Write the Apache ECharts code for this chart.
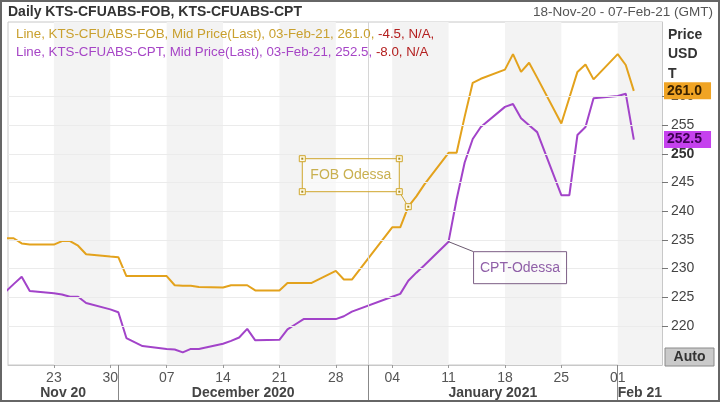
<!DOCTYPE html>
<html><head><meta charset="utf-8">
<script src="https://cdn.jsdelivr.net/npm/echarts@6/dist/echarts.min.js"></script>
<style>html,body{margin:0;padding:0;background:#fff}#c{width:720px;height:402px}</style>
</head><body><div id="c"></div>
<script>
// ---------- data ----------
const dates = ['2020-11-17','2020-11-18','2020-11-19','2020-11-20','2020-11-23','2020-11-24','2020-11-25','2020-11-26','2020-11-27','2020-11-30',
  '2020-12-01','2020-12-02','2020-12-03','2020-12-04','2020-12-07','2020-12-08','2020-12-09','2020-12-10','2020-12-11','2020-12-14',
  '2020-12-15','2020-12-16','2020-12-17','2020-12-18','2020-12-21','2020-12-22','2020-12-23','2020-12-24','2020-12-25','2020-12-28',
  '2020-12-29','2020-12-30','2021-01-04','2021-01-05','2021-01-06','2021-01-07','2021-01-08','2021-01-11','2021-01-12','2021-01-13',
  '2021-01-14','2021-01-15','2021-01-18','2021-01-19','2021-01-20','2021-01-21','2021-01-22','2021-01-25','2021-01-26','2021-01-27',
  '2021-01-28','2021-01-29','2021-02-01','2021-02-02','2021-02-03'];
const fobValues = [235.3,235.3,234.4,234.2,234.2,234.8,234.8,234.0,232.5,232.1,
  232.0,228.7,228.7,228.7,228.7,227.1,227.0,227.0,226.8,226.7,
  227.1,227.1,227.1,226.2,226.2,227.5,227.5,227.5,227.5,229.6,
  228.1,228.1,237.2,237.2,240.8,242.6,244.7,250.2,250.2,256.5,
  262.4,263.1,264.7,267.4,264.3,265.9,263.3,255.3,259.8,264.3,
  265.6,263.0,267.4,265.5,261.0];
const cptValues = [226.0,227.3,228.6,226.1,225.7,225.5,225.1,225.1,224.0,222.9,
  222.4,217.9,217.2,216.5,216.0,215.9,215.4,216.0,216.0,216.9,
  217.4,218.0,219.5,217.5,217.6,219.4,220.3,221.2,221.2,221.2,
  221.7,222.5,225.1,225.6,227.9,229.3,230.6,234.7,242.1,248.5,
  252.6,254.7,258.2,258.7,256.2,255.0,253.8,242.8,242.8,253.3,
  254.7,259.7,260.1,260.5,252.5];
const seriesNames = ['KTS-CFUABS-FOB','KTS-CFUABS-CPT'];
const annotationNames = ['FOB Odessa','CPT-Odessa'];
const annotationDates = ['2021-01-06','2021-01-11'];
const dayTickDates = ['2020-11-23','2020-11-30','2020-12-07','2020-12-14','2020-12-21','2020-12-28','2021-01-04','2021-01-11','2021-01-18','2021-01-25','2021-02-01'];
const dayTickLabels = ['23','30','07','14','21','28','04','11','18','25','01'];
const monthStartDates = ['2020-12-01','2021-01-01','2021-02-01'];
const monthLabels = ['Nov 20','December 2020','January 2021','Feb 21'];
const shadedWeekStarts = ['2020-11-23','2020-12-07','2020-12-21','2021-01-04','2021-01-18','2021-02-01'];
const yTicks = [220,225,230,235,240,245,250,255,260];
const yBoldTick = 250;
const yearBreakDate = '2021-01-01';
const titleText = 'Daily KTS-CFUABS-FOB, KTS-CFUABS-CPT';
const rangeText = '18-Nov-20 - 07-Feb-21 (GMT)';
const axisUnitLines = ['Price','USD','T'];
const lastDateLabel = '03-Feb-21';
const autoText = 'Auto';

// ---------- helpers ----------
const BASE = Date.UTC(2020,10,18);
function dayIndex(s){const p=s.split('-').map(Number);return (Date.UTC(p[0],p[1]-1,p[2])-BASE)/86400000;}
const X_MIN=-0.7, X_MAX=80.5, Y_MIN=213.2, Y_MAX=273.0;
const FOB_C='#e3a21c', CPT_C='#a243c9';
const FONT='Liberation Sans';

const fobData = dates.map((d,i)=>[dayIndex(d),fobValues[i]]);
const cptData = dates.map((d,i)=>[dayIndex(d),cptValues[i]]);
const dayTicks = dayTickDates.map(dayIndex);
const monthStarts = monthStartDates.map(dayIndex);
const bounds=[X_MIN,...monthStarts,X_MAX];
const monthMids = monthLabels.map((_,i)=>(bounds[i]+bounds[i+1])/2);

function lbl(arr,labels,v){let k=0,b=1e9;arr.forEach((t,i)=>{const d=Math.abs(t-v);if(d<b){b=d;k=i;}});return labels[k];}

const n=fobValues.length;
const fobLast=fobValues[n-1], cptLast=cptValues[n-1];
const fobChg=(fobLast-fobValues[n-2]).toFixed(1), cptChg=(cptLast-cptValues[n-2]).toFixed(1);

const chart = echarts.init(document.getElementById('c'),null,{renderer:'canvas'});

function tag(val,bg,fg){
  return {symbol:['none','none'],silent:true,lineStyle:{color:'rgba(0,0,0,0)',width:1,type:'solid'},
    data:[{yAxis:val}],
    label:{show:true,position:'end',distance:2,formatter:val.toFixed(1),backgroundColor:bg,color:fg,
      fontFamily:FONT,fontWeight:'bold',fontSize:14,padding:[2,9,1,3]}};
}

chart.setOption({
  animation:false,
  backgroundColor:'#fff',
  grid:{left:8,right:58,top:22,bottom:37,show:true,borderColor:'#c8c8c8',borderWidth:1,backgroundColor:'#fff'},
  xAxis:[{
    type:'value',min:X_MIN,max:X_MAX,
    axisLine:{show:true,onZero:false,lineStyle:{color:'#c8c8c8'}},
    axisTick:{show:true,customValues:dayTicks,length:3,lineStyle:{color:'#999'}},
    axisLabel:{customValues:dayTicks,formatter:v=>lbl(dayTicks,dayTickLabels,v),color:'#555',fontFamily:FONT,fontSize:14,margin:6},
    splitLine:{show:false}
  },{
    type:'value',min:X_MIN,max:X_MAX,position:'bottom',offset:0,
    axisLine:{show:false,onZero:false},
    axisTick:{show:true,customValues:monthStarts,length:37,lineStyle:{color:'#888'}},
    axisLabel:{customValues:monthMids,formatter:v=>lbl(monthMids,monthLabels,v),color:'#444',fontFamily:FONT,fontWeight:'bold',fontSize:14,margin:21},
    splitLine:{show:false}
  }],
  yAxis:{
    type:'value',position:'right',min:Y_MIN,max:Y_MAX,
    axisLine:{show:true,onZero:false,lineStyle:{color:'#c8c8c8'}},
    axisTick:{show:true,customValues:yTicks,length:6,lineStyle:{color:'#777'}},
    axisLabel:{customValues:yTicks,margin:9,color:'#444',fontFamily:FONT,fontSize:14,
      formatter:v=>v===yBoldTick?'{b|'+v+'}':String(v),rich:{b:{fontWeight:'bold',color:'#333',fontFamily:FONT,fontSize:14}}},
    splitLine:{show:false}
  },
  series:[{
    type:'line',name:'bg',data:[],z:0,silent:true,symbol:'none',
    markArea:{silent:true,itemStyle:{color:'#f3f3f3'},
      data:shadedWeekStarts.map(s=>[{xAxis:dayIndex(s)},{xAxis:Math.min(dayIndex(s)+7,X_MAX)}])},
    markLine:{silent:true,symbol:['none','none'],label:{show:false},
      data:[...yTicks.map(v=>({yAxis:v,lineStyle:{color:'#ebebeb',width:1,type:'solid'}})),
            {xAxis:dayIndex(yearBreakDate),lineStyle:{color:'#d6d6d6',width:1,type:'solid'}}]}
  },{
    type:'line',name:seriesNames[0],data:fobData,symbol:'none',z:3,
    lineStyle:{color:FOB_C,width:2},itemStyle:{color:FOB_C},
    markLine:tag(fobLast,'#f0a424','#3a2200')
  },{
    type:'line',name:seriesNames[1],data:cptData,symbol:'none',z:3,
    lineStyle:{color:CPT_C,width:2},itemStyle:{color:CPT_C},
    markLine:tag(cptLast,'#c541ee','#3d0052')
  }]
});

// annotations anchored to data points
const ia=dates.indexOf(annotationDates[0]), ib=dates.indexOf(annotationDates[1]);
const pa=chart.convertToPixel({xAxisIndex:0,yAxisIndex:0},fobData[ia]);
const pb=chart.convertToPixel({xAxisIndex:0,yAxisIndex:0},cptData[ib]);
function handle(x,y){return {type:'group',children:[
  {type:'rect',shape:{x:x-3,y:y-3,width:6,height:6},style:{fill:'#fffbe8',stroke:'#cfa62c',lineWidth:1},z:20},
  {type:'rect',shape:{x:x-1,y:y-1,width:2,height:2},style:{fill:'#a88a20'},z:21}]};}
const fx=pa[0]-106, fy=pa[1]-48, fw=97, fh=33;
const cx=pb[0]+25, cy=pb[1]+10, cw=93, ch=32;

const legendRich={
  a:{fill:'#c9a02e',font:'13.3px '+FONT},
  c:{fill:'#a645c6',font:'13.3px '+FONT},
  r:{fill:'#b42020',font:'13.3px '+FONT}};

chart.setOption({graphic:[
  {type:'rect',shape:{x:1,y:1,width:718,height:400},style:{fill:null,stroke:'#666',lineWidth:2},z:50,silent:true},
  {type:'text',x:8,y:12,style:{text:titleText,fill:'#333',font:'bold 14px '+FONT,textVerticalAlign:'middle'},z:30},
  {type:'text',x:713,y:12,style:{text:rangeText,fill:'#555',font:'13.5px '+FONT,textAlign:'right',textVerticalAlign:'middle'},z:30},
  {type:'text',x:16,y:34,style:{text:'{a|Line, '+seriesNames[0]+', Mid Price(Last), '+lastDateLabel+', '+fobLast.toFixed(1)+', }{r|'+fobChg+', N/A,}',rich:legendRich,textVerticalAlign:'middle'},z:30},
  {type:'text',x:16,y:52,style:{text:'{c|Line, '+seriesNames[1]+', Mid Price(Last), '+lastDateLabel+', '+cptLast.toFixed(1)+', }{r|'+cptChg+', N/A}',rich:legendRich,textVerticalAlign:'middle'},z:30},
  {type:'text',x:668,y:25,style:{text:axisUnitLines.join('\n'),fill:'#333',font:'bold 14px '+FONT,lineHeight:19.5,textVerticalAlign:'top'},z:30},
  {type:'rect',shape:{x:665,y:348,width:49,height:18},style:{fill:'#cacaca',stroke:'#8a8a8a',lineWidth:1},z:30},
  {type:'text',x:689.5,y:357.5,style:{text:autoText,fill:'#333',font:'bold 14px '+FONT,textAlign:'center',textVerticalAlign:'middle'},z:31},
  // FOB annotation
  {type:'line',shape:{x1:fx+fw,y1:fy+fh,x2:pa[0],y2:pa[1]},style:{stroke:'#cfa62c',lineWidth:1},z:19},
  {type:'rect',shape:{x:fx,y:fy,width:fw,height:fh},style:{fill:'rgba(255,255,255,0.5)',stroke:'#cfa62c',lineWidth:1},z:19},
  {type:'text',x:fx+fw/2,y:fy+fh/2,style:{text:annotationNames[0],fill:'#c9b050',font:'14px '+FONT,textAlign:'center',textVerticalAlign:'middle'},z:22},
  handle(fx,fy),handle(fx+fw,fy),handle(fx,fy+fh),handle(fx+fw,fy+fh),handle(pa[0],pa[1]),
  // CPT annotation
  {type:'line',shape:{x1:pb[0],y1:pb[1],x2:cx,y2:cy},style:{stroke:'#6b5a70',lineWidth:1},z:19},
  {type:'rect',shape:{x:cx,y:cy,width:cw,height:ch},style:{fill:'rgba(255,255,255,0.5)',stroke:'#7d5f86',lineWidth:1},z:19},
  {type:'text',x:cx+cw/2,y:cy+ch/2,style:{text:annotationNames[1],fill:'#9060a8',font:'14px '+FONT,textAlign:'center',textVerticalAlign:'middle'},z:22}
]});
</script></body></html>
